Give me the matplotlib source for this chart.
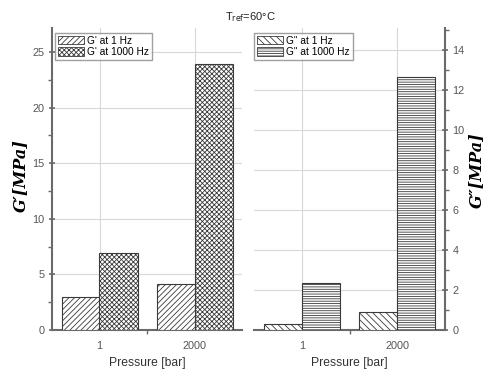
import matplotlib
matplotlib.use("Agg")
import matplotlib.pyplot as plt
from matplotlib.patches import Patch
from matplotlib.ticker import MultipleLocator, FixedLocator
import numpy as np

categories = ["1", "2000"]
gp_1hz = [3.0, 4.1]
gp_1000hz = [6.9, 23.9]
gpp_1hz = [0.3, 0.92]
gpp_1000hz = [2.37, 12.67]

plt.rcParams['font.family'] = ['Liberation Sans', 'DejaVu Sans']
plt.rcParams['hatch.linewidth'] = 0.6

W, H = 484, 370
fig = plt.figure(figsize=(W/100, H/100), dpi=100)

def ax_px(x0, x1, ytop, ybot):
    return fig.add_axes([x0/W, (H-ybot)/H, (x1-x0)/W, (ybot-ytop)/H])

axL = ax_px(52, 242, 28, 330)
axR = ax_px(254, 445, 28, 330)

x = np.arange(1, len(categories)+1)
bw = 0.4
edge = '#3a3a3a'
spine_c = '#6a6a6a'
tick_c = '#555555'
grid_c = '#d8d8d8'

def style(ax, side):
    for s in ['top', 'left', 'right', 'bottom']:
        ax.spines[s].set_visible(False)
    ax.spines[side].set_visible(True)
    ax.spines['bottom'].set_visible(True)
    for s in [side, 'bottom']:
        ax.spines[s].set_color(spine_c)
        ax.spines[s].set_linewidth(1.5)
    ax.set_xlim(0.5, 2.5)
    ax.set_xticks(x)
    ax.set_xticklabels(categories)
    ax.xaxis.set_minor_locator(FixedLocator([1.5]))
    ax.tick_params(axis='both', which='major', length=4, width=1.2, color=spine_c,
                   labelsize=7.8, labelcolor=tick_c, direction='inout')
    ax.tick_params(axis='both', which='minor', length=3, width=1.0, color=spine_c, direction='out')
    ax.tick_params(axis='x', which='major', length=0, pad=8)
    ax.grid(True, which='major', color=grid_c, linewidth=0.8)
    ax.set_axisbelow(True)
    ax.set_xlabel('Pressure [bar]', fontsize=8.7, color='#333333', labelpad=4)

leg_kw = dict(loc='upper left', fontsize=7.3, frameon=True, fancybox=False,
              edgecolor='#888888', handlelength=2.6, handleheight=0.9, borderpad=0.3,
              labelspacing=0.15, handletextpad=0.3, borderaxespad=0.0)

# Left panel
axL.bar(x - bw/2, gp_1hz, bw, facecolor='white', edgecolor=edge, hatch='//////', linewidth=0.8, zorder=3)
axL.bar(x + bw/2, gp_1000hz, bw, facecolor='white', edgecolor=edge, hatch='xxxxxxx', linewidth=0.8, zorder=3)
axL.set_ylim(0, 27.16)
axL.yaxis.set_major_locator(MultipleLocator(5))
axL.yaxis.set_minor_locator(MultipleLocator(2.5))
style(axL, 'left')
axL.legend(handles=[Patch(facecolor='white', edgecolor=edge, hatch='//////', linewidth=0.6, label="G' at 1 Hz"),
                    Patch(facecolor='white', edgecolor=edge, hatch='xxxxxxx', linewidth=0.6, label="G' at 1000 Hz")],
           bbox_to_anchor=(0.015, 0.985), **leg_kw)

# Right panel
axR.bar(x - bw/2, gpp_1hz, bw, facecolor='white', edgecolor=edge, hatch='\\\\\\\\\\', linewidth=0.8, zorder=3)
axR.bar(x + bw/2, gpp_1000hz, bw, facecolor='white', edgecolor=edge, hatch='-------', linewidth=0.8, zorder=3)
axR.set_ylim(0, 15.1)
axR.yaxis.set_major_locator(MultipleLocator(2))
axR.yaxis.set_minor_locator(MultipleLocator(1))
axR.yaxis.tick_right()
style(axR, 'right')
axR.legend(handles=[Patch(facecolor='white', edgecolor=edge, hatch='\\\\\\\\\\', linewidth=0.6, label='G" at 1 Hz'),
                    Patch(facecolor='white', edgecolor=edge, hatch='-------', linewidth=0.6, label='G" at 1000 Hz')],
           bbox_to_anchor=(0.0, 0.985), **leg_kw)

lab_kw = dict(family=['DejaVu Serif'], style='italic', weight='bold', fontsize=11.5,
              rotation=90, ha='center', va='center', color='black')
fig.text(20/W, 1 - 176/H, "G\u2032[MPa]", **lab_kw)
fig.text(476/W, 1 - 170/H, "G\u2033[MPa]", **lab_kw)

fig.text(250/W, 1 - 17/H, r"T$_{\rm ref}$=60°C", fontsize=8, ha='center', va='center', color='#222222')

fig.savefig('out.png', dpi=100)
